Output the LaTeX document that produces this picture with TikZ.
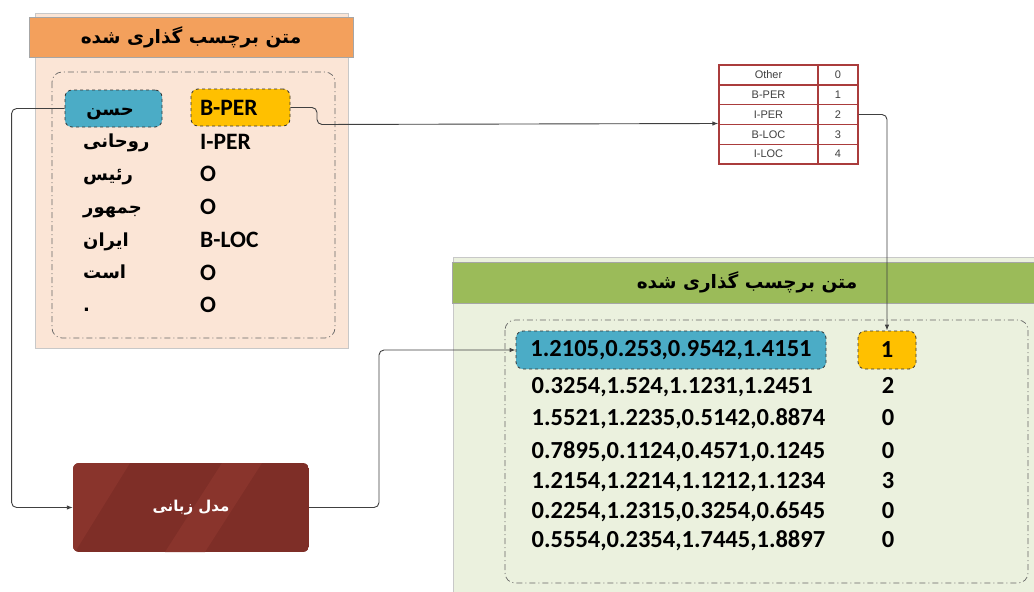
\documentclass[tikz,border=0pt]{standalone}
\usepackage{fontspec}
\setmainfont{Carlito}
\newfontfamily\fa[Script=Arabic]{DejaVu Sans}
\newfontfamily\tabfont{Liberation Sans}
\TeXXeTstate=1
\usetikzlibrary{arrows.meta}
\definecolor{peach}{RGB}{251,229,214}
\definecolor{orangehdr}{RGB}{243,160,92}
\definecolor{greenhdr}{RGB}{155,187,89}
\definecolor{greenbg}{RGB}{235,241,222}
\definecolor{bluebx}{RGB}{75,172,198}
\definecolor{yelbx}{RGB}{255,192,0}
\definecolor{tred}{RGB}{170,60,60}
\definecolor{brownA}{RGB}{126,46,39}
\definecolor{brownB}{RGB}{137,52,44}
\definecolor{linec}{RGB}{64,64,64}
\definecolor{panelbd}{RGB}{200,200,200}
\tikzset{
  panel/.style={fill=#1, draw=panelbd, line width=0.8pt},
  hdr/.style={fill=#1, draw=gray!70, line width=0.6pt, inner sep=0pt},
  dashbox/.style={draw=gray!80!black, line width=0.7pt, rounded corners=10pt,
    dash pattern=on 6pt off 3pt on 1pt off 3pt},
  tagbox/.style={fill=#1, draw=gray!40!black, dashed, line width=0.8pt,
    rounded corners=7pt, inner sep=0pt},
  word/.style={anchor=base west, inner sep=0pt, font=\fa\bfseries\fontsize{18}{21}\selectfont},
  lab/.style={anchor=base west, inner sep=0pt, font=\bfseries\fontsize{23.5}{27}\selectfont},
  num/.style={inner sep=0pt, font=\bfseries\fontsize{24.5}{28}\selectfont},
  cell/.style={draw=tred, line width=1.4pt, fill=white, inner sep=0pt,
    minimum height=19.8pt, font=\tabfont\fontsize{11}{13}\selectfont, text=black!75},
  conn/.style={draw=linec, line width=0.9pt, rounded corners=5pt,
    -{Latex[length=6pt,width=4.5pt]}}
}
\begin{document}
\begin{tikzpicture}[x=1pt,y=-1pt]
\useasboundingbox (0,0) rectangle (1034,592);
\fill[white] (0,0) rectangle (1034,592);

% ---------- left panel ----------
\draw[panel=peach] (35,13) rectangle (348,348);
\node[hdr=orangehdr, minimum width=324pt, minimum height=40pt] (hdrL) at (191,37)
  {\raisebox{-2pt}{\fa\bfseries\fontsize{18.5}{22}\selectfont\beginR متن برچسب گذاری شده\endR}};
\draw[dashbox] (52,72) rectangle (335,338);

\node[tagbox=bluebx, minimum width=97pt, minimum height=37pt] (hasan) at (113.5,108.5) {};
\node[word, anchor=base] (w1) at (110,115) {\beginR حسن\endR};
\node[tagbox=yelbx, minimum width=99pt, minimum height=37pt, text width=81pt, align=left] (bper) at (240.5,107.5)
  {\bfseries\fontsize{23.5}{27}\selectfont B-PER};

\node[word] (w2) at (83,147.5) {\beginR روحانی\endR};
\node[word] (w3) at (83,180) {\beginR رئیس\endR};
\node[word] (w4) at (83,213) {\beginR جمهور\endR};
\node[word] (w5) at (83,246) {\beginR ایران\endR};
\node[word] (w6) at (83,278.5) {\beginR است\endR};
\node[word] (w7) at (83,311) {.};

\node[lab] (l2) at (200,149) {I-PER};
\node[lab] (l3) at (200,181.5) {O};
\node[lab] (l4) at (200,214.5) {O};
\node[lab] (l5) at (200,247.5) {B-LOC};
\node[lab] (l6) at (200,280) {O};
\node[lab] (l7) at (200,312.5) {O};

% ---------- lookup table ----------
\node[cell, minimum width=99pt] (t1) at (768.5,74.9) {Other};
\node[cell, minimum width=40pt] (v1) at (838,74.9) {0};
\node[cell, minimum width=99pt] (t2) at (768.5,94.7) {B-PER};
\node[cell, minimum width=40pt] (v2) at (838,94.7) {1};
\node[cell, minimum width=99pt] (t3) at (768.5,114.5) {I-PER};
\node[cell, minimum width=40pt] (v3) at (838,114.5) {2};
\node[cell, minimum width=99pt] (t4) at (768.5,134.3) {B-LOC};
\node[cell, minimum width=40pt] (v4) at (838,134.3) {3};
\node[cell, minimum width=99pt] (t5) at (768.5,154.1) {I-LOC};
\node[cell, minimum width=40pt] (v5) at (838,154.1) {4};

% ---------- green panel ----------
\draw[panel=greenbg] (453,257) rectangle (1040,600);
\node[hdr=greenhdr, minimum width=590pt, minimum height=41pt] (hdrR) at (747,282.5)
  {\raisebox{-2pt}{\fa\bfseries\fontsize{18.5}{22}\selectfont\beginR متن برچسب گذاری شده\endR}};
\draw[dashbox] (505,320) rectangle (1028,583);

\node[tagbox=bluebx, minimum width=310pt, minimum height=38pt] (vec1) at (671,350)
  {\bfseries\fontsize{24.5}{28}\selectfont 1.2105,0.253,0.9542,1.4151};
\node[tagbox=yelbx, minimum width=58pt, minimum height=38pt] (one) at (887,350)
  {\bfseries\fontsize{24.5}{28}\selectfont 1};

\node[num, anchor=base west] (vec2) at (531.5,393.5) {0.3254,1.524,1.1231,1.2451};
\node[num, anchor=base west] (vec3) at (531.5,425.5) {1.5521,1.2235,0.5142,0.8874};
\node[num, anchor=base west] (vec4) at (531.5,458.5) {0.7895,0.1124,0.4571,0.1245};
\node[num, anchor=base west] (vec5) at (531.5,488.5) {1.2154,1.2214,1.1212,1.1234};
\node[num, anchor=base west] (vec6) at (531.5,518) {0.2254,1.2315,0.3254,0.6545};
\node[num, anchor=base west] (vec7) at (531.5,547.5) {0.5554,0.2354,1.7445,1.8897};
\node[num, anchor=base] (n2) at (888,393.5) {2};
\node[num, anchor=base] (n3) at (888,425.5) {0};
\node[num, anchor=base] (n4) at (888,458.5) {0};
\node[num, anchor=base] (n5) at (888,488.5) {3};
\node[num, anchor=base] (n6) at (888,518) {0};
\node[num, anchor=base] (n7) at (888,547.5) {0};

% ---------- language model box ----------
\begin{scope}
  \clip[rounded corners=6pt] (73,463) rectangle (309,552);
  \fill[brownA] (73,463) rectangle (309,552);
  \fill[brownB] (73,463) -- (130,463) -- (75,552) -- (73,552) -- cycle;
  \fill[brownB] (165,552) -- (222,463) -- (262,463) -- (205,552) -- cycle;
\end{scope}
\node[minimum width=236pt, minimum height=89pt, inner sep=0pt, text=white,
  font=\fa\bfseries\fontsize{15}{18}\selectfont] (lm) at (191,507.5) {\beginR مدل زبانی\endR};

% ---------- connectors ----------
\draw[conn] (hasan.west) -- ++(-53,0) |- (lm.west);
\draw[conn] (lm.east) -- (379,507.5) |- (vec1.west);
\draw[conn] (bper.east) -- (317,107.5) -- (317,124.5) -- ([yshift=-9pt]t3.west);
\draw[conn] (v3.east) -| (one.north);
\end{tikzpicture}
\end{document}
